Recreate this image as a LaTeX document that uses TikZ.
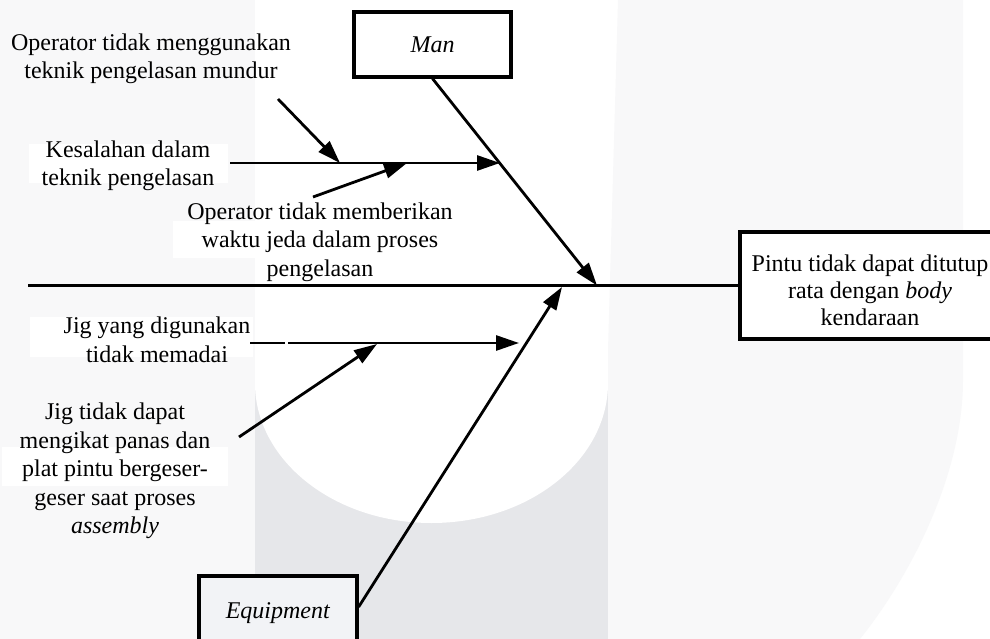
\documentclass[tikz,border=0pt]{standalone}
\usepackage{fontspec}
\setmainfont{Liberation Serif}
\usetikzlibrary{arrows.meta}
\definecolor{wmlight}{HTML}{F8F8F9}
\definecolor{wmgray}{HTML}{E6E7EA}
\definecolor{eqfill}{HTML}{F2F3F6}
\begin{document}
\begin{tikzpicture}[x=1pt,y=-1pt,
  every node/.style={font=\fontsize{24}{28.5}\selectfont},
  box/.style={draw=black, line width=3.2pt, fill=white, inner sep=0pt, align=center},
  lbl/.style={align=center, inner sep=0pt},
  arr/.style={line width=2.8pt, -{Triangle[length=23pt,width=15pt]}},
  plain/.style={line width=2.8pt},
  spine/.style={line width=2.5pt}]
\useasboundingbox (0,0) rectangle (990,639);
% watermark background
\fill[white] (0,0) rectangle (990,639);
\fill[wmlight] (0,0) rectangle (255,639);
\fill[wmgray] (255,0) rectangle (608,639);
\fill[white] (255,0) rectangle (608,383);
\fill[white] (431.5,383) ellipse [x radius=176.5, y radius=140];
\fill[wmlight] (618,0) -- (963,0) -- (963,380) .. controls (963,470) and (915,570) .. (860,639) -- (608,639) -- (608,350) -- cycle;
% faint text boxes
\fill[white] (29,144) rectangle (228,183);
\fill[white] (30,317) rectangle (253,357);
\fill[white] (2,447) rectangle (228,486);
\fill[white] (173,221) rectangle (440,258);
% boxes
\node[box, minimum width=157pt, minimum height=65pt] (man) at (432.5,44.5) {\textit{Man}};
\node[box, minimum width=260pt, minimum height=107pt,
  label={[lbl, yshift=-4.5pt, font=\fontsize{24}{27}\selectfont]center:{Pintu tidak dapat ditutup\\rata dengan \textit{body}\\kendaraan}}] (eff) at (870,285.5) {};
\node[box, fill=eqfill, minimum width=158pt, minimum height=74pt] (equip) at (278,613) {\textit{Equipment}};
% labels
\node[lbl] (t1) at (151,59) {Operator tidak menggunakan\\teknik pengelasan mundur};
\node[lbl] (t2) at (128,166) {Kesalahan dalam\\teknik pengelasan};
\node[lbl] (t3) at (320,242) {Operator tidak memberikan\\waktu jeda dalam proses\\pengelasan};
\node[lbl] (t4) at (157,340) {Jig yang digunakan\\tidak memadai};
\node[lbl] (t5) at (115,471) {Jig tidak dapat\\mengikat panas dan\\plat pintu bergeser-\\geser saat proses\\\textit{assembly}};
% coordinates
\coordinate (sp0) at (28,285.5);
\coordinate (manhead) at (597,285.5);
\coordinate (eqhead) at (562,287);
\coordinate (k0) at (230,163);
\coordinate (k1) at (500,163);
\coordinate (s1a) at (278,99);
\coordinate (s1b) at (340,163);
\coordinate (s2a) at (313,197);
\coordinate (s2b) at (407,163);
\coordinate (j0) at (250,343);
\coordinate (jg1) at (285,343);
\coordinate (jg2) at (288,343);
\coordinate (j1) at (519,343);
\coordinate (s3a) at (239,437);
\coordinate (s3b) at (377,344);
% spine and bones
\draw[spine] (sp0) -- (eff.west);
\draw[arr] (man.south) -- (manhead);
\draw[arr] ([yshift=6pt]equip.east) -- (eqhead);
\draw[arr] (k0) -- (k1);
\draw[arr] (s1a) -- (s1b);
\draw[arr] (s2a) -- (s2b);
\draw[plain] (j0) -- (jg1);
\draw[arr] (jg2) -- (j1);
\draw[arr] (s3a) -- (s3b);
\end{tikzpicture}
\end{document}
